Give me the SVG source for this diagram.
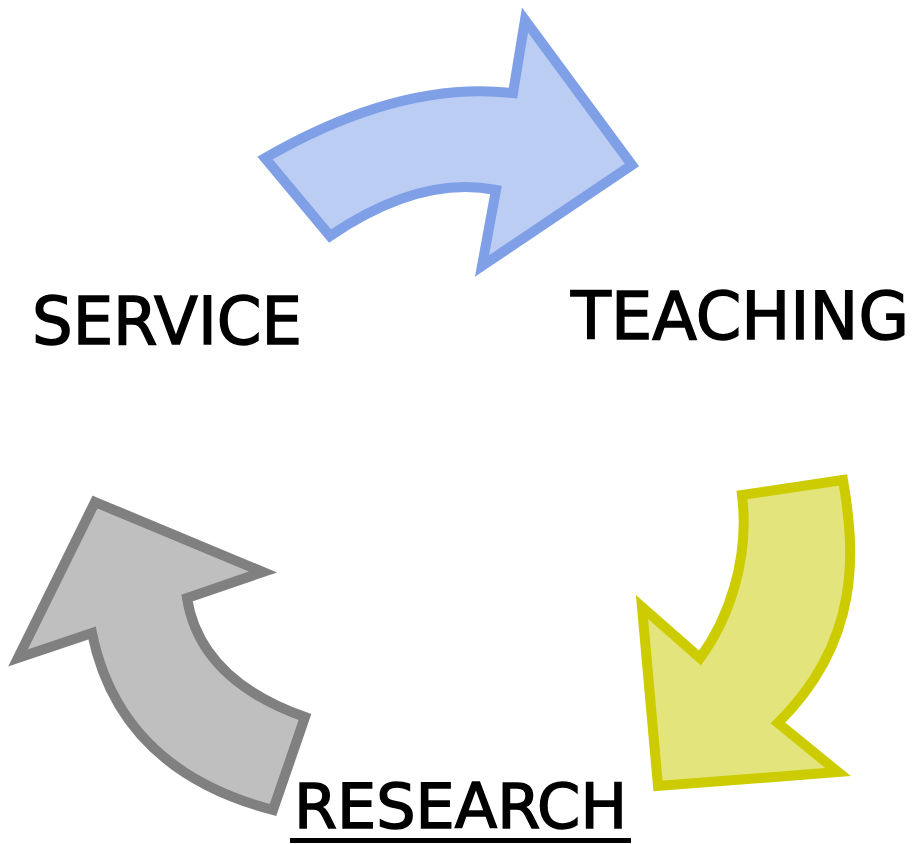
<svg xmlns="http://www.w3.org/2000/svg" width="917" height="844" viewBox="0 0 917 844">
<style>
.lbl{font-family:"Comic Sans MS","DejaVu Sans",sans-serif;font-size:66px;fill:#000;stroke:#000;stroke-width:1.5}
.arr{stroke-width:10;stroke-linejoin:miter;stroke-miterlimit:10}
.blue{fill:#bccdf4;stroke:#7f9fe6}
.yellow{fill:#e3e47b;stroke:#cccc00}
.gray{fill:#bfbfbf;stroke:#808080}
</style>
<rect width="917" height="844" fill="#fff"/>
<g id="connectors">
<path class="arr blue" d="M265,158 Q400,80 513,93 L525,20 L632,165 L482,266 L496,190 Q420,175 330,236 Z"/>
<path class="arr yellow" d="M843,480 C855,550 862,640 778,723 L838,772 L658,786 L642,607 L700,658 C728,620 750,560 742,495 Z"/>
<path class="arr gray" d="M95,502 L263,572 L187,598 Q200,680 305,717 L273,810 Q120,770 92,633 L18,658 Z"/>
</g>
<g id="service"><text class="lbl" x="32" y="344" textLength="270" lengthAdjust="spacingAndGlyphs">SERVICE</text></g>
<g id="teaching"><text class="lbl" x="571" y="339" textLength="338" lengthAdjust="spacingAndGlyphs">TEACHING</text></g>
<g id="research"><text class="lbl" x="294" y="828" textLength="333" lengthAdjust="spacingAndGlyphs" style="font-size:62px">RESEARCH</text><rect x="290" y="838" width="341" height="5" fill="#000"/></g>
</svg>
